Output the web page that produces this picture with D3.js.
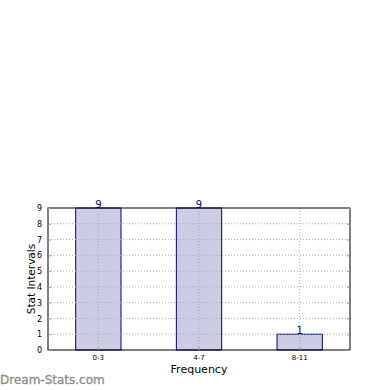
<!DOCTYPE html>
<html>
<head>
<meta charset="utf-8">
<script src="https://cdn.jsdelivr.net/npm/d3@7"></script>
<style>
body { margin: 0; background: #fff; }
svg { font-family: "DejaVu Sans", sans-serif; }
</style>
</head>
<body>
<svg width="390" height="390"></svg>
<script>
const categories = ["0-3", "4-7", "8-11"];
const values = [9, 9, 1];
const yTicks = [0, 1, 2, 3, 4, 5, 6, 7, 8, 9];

const svg = d3.select("svg");
const plotLeft = 48, plotRight = 350, plotTop = 208, plotBottom = 350;

const x = d3.scaleBand()
    .domain(categories)
    .range([plotLeft, plotRight])
    .paddingInner(0.55)
    .paddingOuter(0.275);

const y = d3.scaleLinear()
    .domain([0, 9])
    .range([plotBottom, plotTop]);

// bars
svg.append("g").selectAll("rect")
    .data(values)
    .enter().append("rect")
    .attr("x", (d, i) => x(categories[i]))
    .attr("y", d => y(d))
    .attr("width", x.bandwidth())
    .attr("height", d => plotBottom - y(d))
    .attr("fill", "#ccccE5")
    .attr("stroke", "#000080")
    .attr("stroke-width", 1);

// grid, drawn above the bars
svg.append("g").selectAll("line")
    .data(categories)
    .enter().append("line")
    .attr("x1", d => x(d) + x.bandwidth() / 2)
    .attr("x2", d => x(d) + x.bandwidth() / 2)
    .attr("y1", plotTop).attr("y2", plotBottom)
    .attr("stroke", "#a8a8b0")
    .attr("stroke-dasharray", "1,2");
svg.append("g").selectAll("line")
    .data(yTicks.slice(1, -1))
    .enter().append("line")
    .attr("x1", plotLeft).attr("x2", plotRight)
    .attr("y1", d => y(d)).attr("y2", d => y(d))
    .attr("stroke", "#a8a8b0")
    .attr("stroke-dasharray", "1,2");

// value labels
svg.append("g").selectAll("text")
    .data(values)
    .enter().append("text")
    .attr("x", (d, i) => x(categories[i]) + x.bandwidth() / 2)
    .attr("y", d => y(d))
    .attr("text-anchor", "middle")
    .attr("font-size", 10)
    .attr("fill", "#000080")
    .text(d => d);

// frame
svg.append("rect")
    .attr("x", plotLeft).attr("y", plotTop)
    .attr("width", plotRight - plotLeft).attr("height", plotBottom - plotTop)
    .attr("fill", "none")
    .attr("stroke", "#000")
    .attr("stroke-width", 1);

// y axis
const yAxis = svg.append("g")
    .attr("transform", `translate(${plotLeft},0)`)
    .call(d3.axisLeft(y).tickValues(yTicks).tickSize(-3).tickPadding(6));
yAxis.select(".domain").remove();
yAxis.selectAll("line").attr("stroke", "#999");
yAxis.selectAll("text").attr("font-size", 8).attr("fill", "#000").attr("font-family", "DejaVu Sans");

const yAxisR = svg.append("g")
    .attr("transform", `translate(${plotRight},0)`)
    .call(d3.axisRight(y).tickValues(yTicks).tickSize(-3).tickFormat(""));
yAxisR.select(".domain").remove();
yAxisR.selectAll("line").attr("stroke", "#999");

// x axis
const xAxis = svg.append("g")
    .attr("transform", `translate(0,${plotBottom})`)
    .call(d3.axisBottom(x).tickSize(-3).tickPadding(5));
xAxis.select(".domain").remove();
xAxis.selectAll("line").attr("stroke", "#999");
xAxis.selectAll("text").attr("font-size", 7).attr("fill", "#000").attr("font-family", "DejaVu Sans");

// axis titles
svg.append("text")
    .attr("x", (plotLeft + plotRight) / 2)
    .attr("y", 373)
    .attr("text-anchor", "middle")
    .attr("font-size", 11)
    .text("Frequency");

svg.append("text")
    .attr("transform", `translate(35,${(plotTop + plotBottom) / 2}) rotate(-90)`)
    .attr("text-anchor", "middle")
    .attr("font-size", 10.5)
    .text("Stat Intervals");

// watermark
svg.append("text")
    .attr("x", 0)
    .attr("y", 384)
    .attr("font-size", 12)
    .attr("fill", "#8c8c8c")
    .attr("stroke", "#8c8c8c")
    .attr("stroke-width", 0.3)
    .text("Dream-Stats.com");
</script>
</body>
</html>
